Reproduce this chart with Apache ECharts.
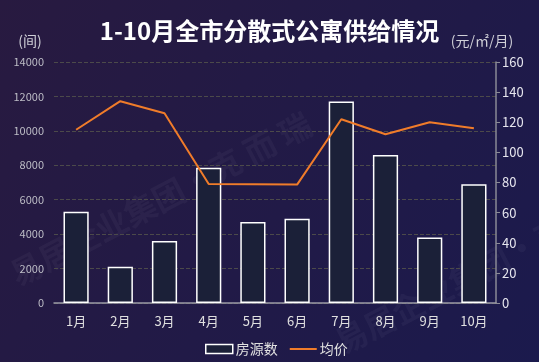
<!DOCTYPE html>
<html>
<head>
<meta charset="utf-8">
<script src="https://cdn.jsdelivr.net/npm/echarts@6/dist/echarts.min.js"></script>
<style>html,body{margin:0;padding:0;background:#221a45;}#c{width:539px;height:362px;}</style>
</head>
<body>
<div id="c"></div>
<script>
var categories = ['1月','2月','3月','4月','5月','6月','7月','8月','9月','10月'];
var supplyCount = [5300, 2100, 3600, 7850, 4700, 4900, 11700, 8600, 3800, 6900];
var avgPrice = [115, 134, 126, 79, 78.8, 78.6, 122, 112, 120, 116];
var leftTicks = {min: 0, max: 14000, interval: 2000};
var rightTicks = {min: 0, max: 160, interval: 20};

var chart = echarts.init(document.getElementById('c'), null, {renderer: 'canvas'});
var font = '"Noto Sans CJK SC", "Noto Sans", sans-serif';
var wm = [];
var wmText = '易居企业集团·克 而 瑞';
[[5, 262], [330, 330]].forEach(function (p) {
  wm.push({
    type: 'text', x: p[0], y: p[1], rotation: 0.48, silent: true,
    style: {text: wmText, fill: 'rgba(255,255,255,0.04)', font: 'bold 32px ' + font}
  });
});
chart.setOption({
  backgroundColor: new echarts.graphic.LinearGradient(0, 0, 1, 1, [
    {offset: 0, color: '#281a40'},
    {offset: 1, color: '#1b1a4d'}
  ]),
  textStyle: {fontFamily: font},
  graphic: wm,
  title: {
    text: '1-10月全市分散式公寓供给情况',
    left: 'center', top: 14,
    textStyle: {color: '#ffffff', fontSize: 24, fontWeight: 'bold', fontFamily: font}
  },
  grid: {left: 54, right: 43, top: 62, bottom: 59, containLabel: false},
  legend: {
    bottom: 1, left: 200, itemWidth: 27, itemHeight: 9, itemGap: 12,
    textStyle: {color: '#e0e0e0', fontSize: 14, padding: [0, 0, 0, -2]},
    data: [
      {name: '房源数', icon: 'rect', itemStyle: {color: '#1b2038', borderColor: '#ffffff', borderWidth: 1.5}},
      {name: '均价', icon: 'path://M0,4 L27,4 L27,6 L0,6 Z', itemStyle: {color: '#f07c2a'}}
    ]
  },
  xAxis: {
    type: 'category', data: categories,
    axisLine: {lineStyle: {color: '#9a9aa6', width: 1.5}},
    axisTick: {show: false},
    axisLabel: {color: '#e0e0e0', fontSize: 13, margin: 12}
  },
  yAxis: [
    {
      type: 'value', name: '(间)', min: leftTicks.min, max: leftTicks.max, interval: leftTicks.interval,
      nameTextStyle: {color: '#d0d0d8', fontSize: 14, align: 'center', padding: [0, 0, 0, -48]},
      nameGap: 14,
      axisLine: {show: false}, axisTick: {show: false},
      axisLabel: {color: '#bdbdc6', fontSize: 11, margin: 10, formatter: function (v) { return String(v); }},
      splitLine: {lineStyle: {color: '#4c4a4a', type: 'dashed', width: 1}}
    },
    {
      type: 'value', name: '(元/㎡/月)', min: rightTicks.min, max: rightTicks.max, interval: rightTicks.interval,
      nameTextStyle: {color: '#d0d0d8', fontSize: 14, align: 'center', padding: [0, 28, 0, 0]},
      nameGap: 14,
      axisLine: {show: true, lineStyle: {color: '#8a8a96', width: 1.5}},
      axisTick: {show: true, length: 4, lineStyle: {color: '#8a8a96'}},
      axisLabel: {color: '#e6e6ee', fontSize: 13, margin: 6},
      splitLine: {show: false}
    }
  ],
  series: [
    {
      name: '房源数', type: 'bar', data: supplyCount, barWidth: '57%',
      itemStyle: {color: '#1b2038', borderColor: '#ffffff', borderWidth: 1.5}
    },
    {
      name: '均价', type: 'line', yAxisIndex: 1, data: avgPrice,
      symbol: 'none', lineStyle: {color: '#f07c2a', width: 2}, itemStyle: {color: '#f07c2a'}
    }
  ]
});
</script>
</body>
</html>
